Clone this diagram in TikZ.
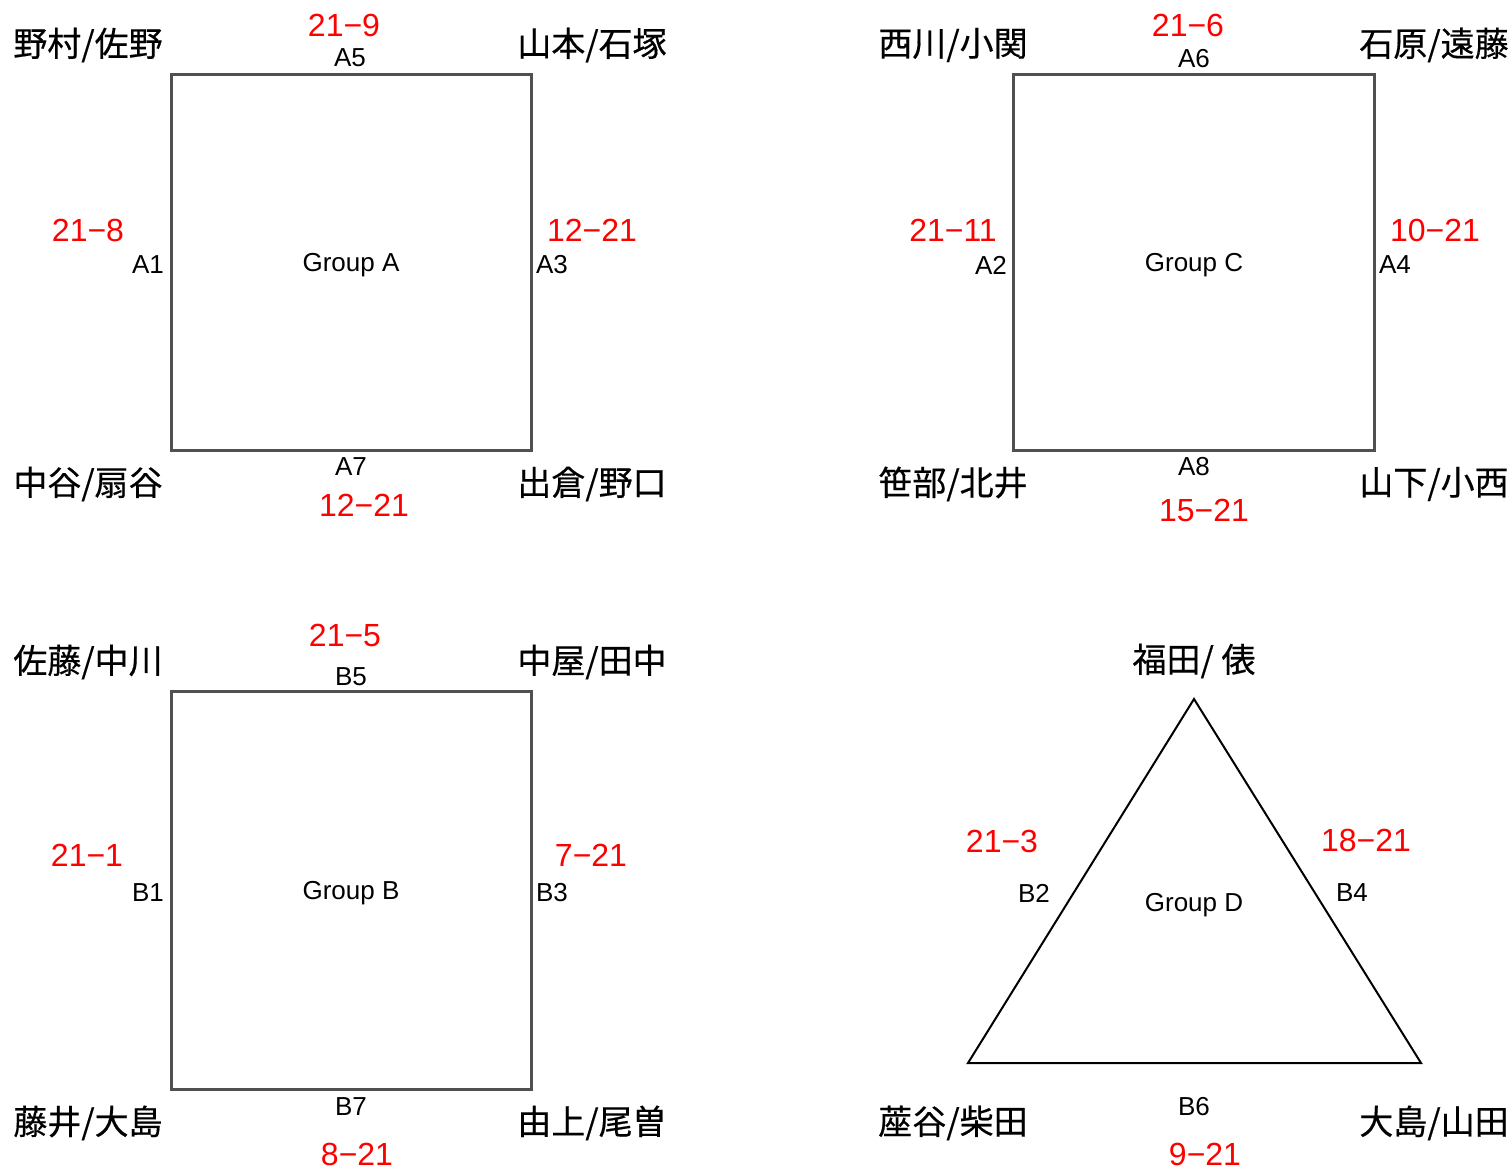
\documentclass[tikz,border=0pt]{standalone}
\usepackage{fontspec}
\setmainfont{Liberation Sans}
\newfontfamily\jp[FakeBold=0.4]{Noto Sans CJK JP}
\definecolor{boxgray}{RGB}{80,80,80}
\definecolor{scorered}{RGB}{255,0,0}
\begin{document}
\begin{tikzpicture}[x=1pt,y=-1pt,
  every node/.style={inner sep=0pt,outer sep=0pt,anchor=center},
  pair/.style={font=\jp\fontsize{34}{38}\selectfont},
  score/.style={text=scorered,font=\fontsize{32}{36}\selectfont},
  lab/.style={font=\fontsize{26}{30}\selectfont},
  grp/.style={font=\fontsize{26}{30}\selectfont},
  sq/.style={draw=boxgray,line width=3pt},
  tri/.style={draw=black,line width=2pt,line join=miter}]
\useasboundingbox (0,0) rectangle (1512,1169);
% ---------- Group A ----------
\node[sq,minimum width=360pt,minimum height=375pt] (gA) at (351,262.5) {};
\node[grp] (tA) at (351,265) {Group A};
\node[pair] (pA1) at (88,45) {野村/佐野};
\node[pair] (pA2) at (592,45) {山本/石塚};
\node[pair] (pA3) at (88,484) {中谷/扇谷};
\node[pair] (pA4) at (592,484) {出倉/野口};
\node[score] (sA5) at (344,25) {21−9};
\node[lab] (lA5) at (350,58) {A5};
\node[score] (sA1) at (88,230) {21−8};
\node[lab] (lA1) at (148,265) {A1};
\node[score] (sA3) at (592,230) {12−21};
\node[lab] (lA3) at (552,265) {A3};
\node[lab] (lA7) at (351,467) {A7};
\node[score] (sA7) at (364,505) {12−21};
% ---------- Group C ----------
\node[sq,minimum width=361pt,minimum height=375pt] (gC) at (1193.5,262.5) {};
\node[grp] (tC) at (1194,265) {Group C};
\node[pair] (pC1) at (953,45) {西川/小関};
\node[pair] (pC2) at (1434,45) {石原/遠藤};
\node[pair] (pC3) at (953,484) {笹部/北井};
\node[pair] (pC4) at (1434,484) {山下/小西};
\node[score] (sA6) at (1188,25) {21−6};
\node[lab] (lA6) at (1194,59) {A6};
\node[score] (sA2) at (953,230) {21−11};
\node[lab] (lA2) at (991,265) {A2};
\node[score] (sA4) at (1435,230) {10−21};
\node[lab] (lA4) at (1395,265) {A4};
\node[lab] (lA8) at (1194,467) {A8};
\node[score] (sA8) at (1204,510) {15−21};
% ---------- Group B ----------
\node[sq,minimum width=360pt,minimum height=398pt] (gB) at (351,890) {};
\node[grp] (tB) at (351,893) {Group B};
\node[pair] (pB1) at (88,662) {佐藤/中川};
\node[pair] (pB2) at (592,662) {中屋/田中};
\node[pair] (pB3) at (88,1123) {藤井/大島};
\node[pair] (pB4) at (592,1123) {由上/尾曽};
\node[score] (sB5) at (345,635) {21−5};
\node[lab] (lB5) at (351,677) {B5};
\node[score] (sB1) at (87,855) {21−1};
\node[lab] (lB1) at (148,893) {B1};
\node[score] (sB3) at (591,855) {7−21};
\node[lab] (lB3) at (552,893) {B3};
\node[lab] (lB7) at (351,1107) {B7};
\node[score] (sB7) at (357,1154) {8−21};
% ---------- Group D ----------
\coordinate (dTop) at (1194,699);
\coordinate (dL) at (968,1063);
\coordinate (dR) at (1421,1063);
\draw[tri] (dTop) -- (dR) -- (dL) -- cycle;
\node[grp] (tD) at (1194,905) {Group D};
\node[pair] (pD1) at (1194,661) {福田/ 俵};
\node[pair] (pD2) at (953,1123) {蓙谷/柴田};
\node[pair] (pD3) at (1434,1123) {大島/山田};
\node[score] (sB2) at (1002,841) {21−3};
\node[lab] (lB2) at (1034,893) {B2};
\node[score] (sB4) at (1366,840) {18−21};
\node[lab] (lB4) at (1352,893) {B4};
\node[lab] (lB6) at (1194,1107) {B6};
\node[score] (sB6) at (1205,1154) {9−21};
\end{tikzpicture}
\end{document}
